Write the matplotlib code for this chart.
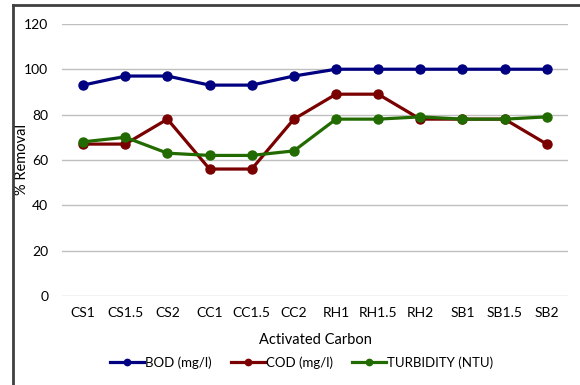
import matplotlib.pyplot as plt
from matplotlib.lines import Line2D

carbons = ["CS1", "CS1.5", "CS2", "CC1", "CC1.5", "CC2",
           "RH1", "RH1.5", "RH2", "SB1", "SB1.5", "SB2"]
bod = [93, 97, 97, 93, 93, 97, 100, 100, 100, 100, 100, 100]
cod = [67, 67, 78, 56, 56, 78, 89, 89, 78, 78, 78, 67]
turbidity = [68, 70, 63, 62, 62, 64, 78, 78, 79, 78, 78, 79]
yticks = [0, 20, 40, 60, 80, 100, 120]

plt.rcParams['font.family'] = ['Lato', 'DejaVu Sans']

fig = plt.figure(figsize=(5.8, 3.85), dpi=100)
ax = fig.add_axes([0.107, 0.231, 0.872, 0.707])

x = range(len(carbons))
ax.plot(x, bod, color="#000080", lw=2.3, marker="o", ms=6.5, label="BOD (mg/l)")
ax.plot(x, cod, color="#7a0000", lw=2.3, marker="o", ms=6.5, label="COD (mg/l)")
ax.plot(x, turbidity, color="#226b00", lw=2.3, marker="o", ms=6.5, label="TURBIDITY (NTU)")

ax.set_xlim(-0.5, len(carbons) - 0.5)
ax.set_ylim(0, 120)
ax.set_yticks(yticks)
ax.set_xticks(list(x))
ax.set_xticklabels(carbons)
ax.tick_params(length=0, labelsize=10, pad=8)
ax.tick_params(axis="y", pad=10)
ax.grid(axis="y", color="#bfbfbf", lw=1)
ax.set_axisbelow(True)
for s in ax.spines.values():
    s.set_visible(False)

ax.set_xlabel("Activated Carbon", fontsize=10.5, labelpad=10)
ax.set_ylabel("% Removal", fontsize=10.5)
ax.yaxis.set_label_coords(-0.066, 0.5)

fig.legend(loc="center", bbox_to_anchor=(0.52, 0.058), ncol=3, frameon=False,
           fontsize=9.5, handlelength=2.6, handletextpad=0.1, columnspacing=1.4,
           markerscale=0.7)

# partial chart border along top and left
fig.add_artist(Line2D([13 / 580, 13 / 580], [0, 1 - 5 / 385], color="#404040", lw=2,
                      transform=fig.transFigure))
fig.add_artist(Line2D([13 / 580, 1], [1 - 5 / 385, 1 - 5 / 385], color="#404040", lw=2,
                      transform=fig.transFigure))

fig.savefig("out.png", dpi=100)
